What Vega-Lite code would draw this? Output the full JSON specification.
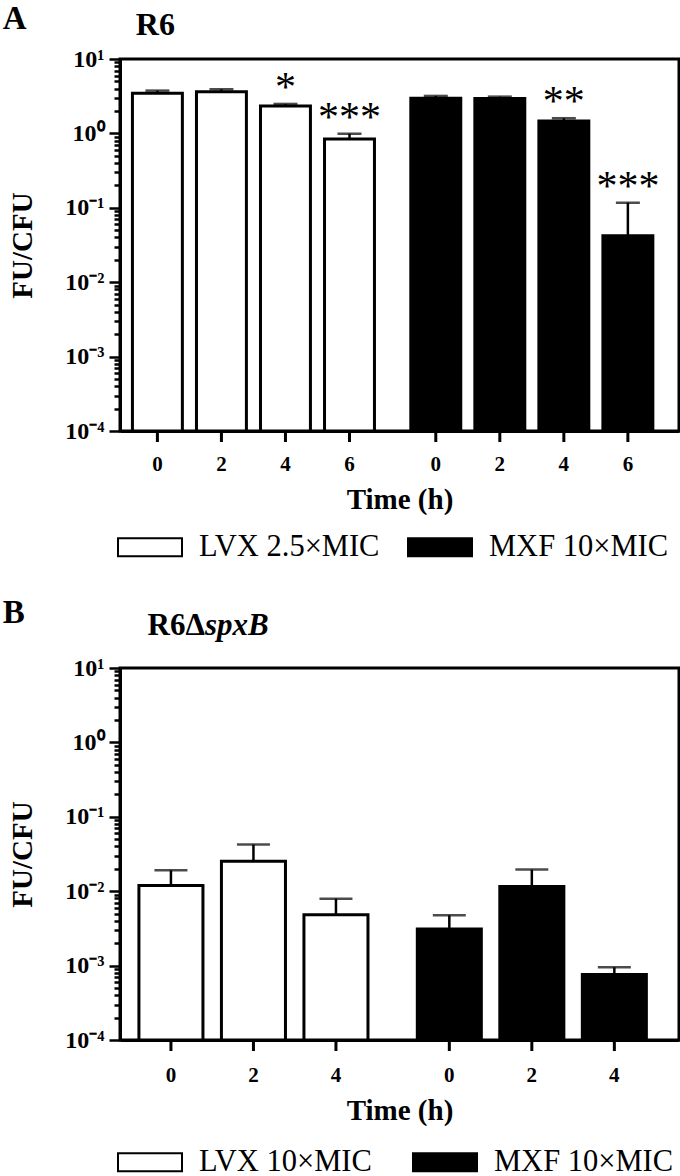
{
  "$schema": "https://vega.github.io/schema/vega-lite/v6.json",
  "background": "white",
  "padding": {"left": 1, "top": 1, "right": 0, "bottom": 0},
  "spacing": 30,
  "config": {
    "view": {"stroke": "black", "strokeWidth": 3},
    "font": "Liberation Serif",
    "axisY": {
      "values": [0.0001,0.0002,0.0003,0.0004,0.0005,0.0006,0.0007,0.0008,0.0009,0.001,0.002,0.003,0.004,0.005,0.006,0.007,0.008,0.009,0.01,0.02,0.03,0.04,0.05,0.06,0.07,0.08,0.09,0.1,0.2,0.3,0.4,0.5,0.6,0.7,0.8,0.9,1,2,3,4,5,6,7,8,9,10],
      "labelExpr": "abs(log(datum.value)/LN10 - round(log(datum.value)/LN10)) < 0.001 ? ('10' + (round(log(datum.value)/LN10) == 1 ? '¹' : round(log(datum.value)/LN10) == 0 ? '⁰' : round(log(datum.value)/LN10) == -1 ? '⁻¹' : round(log(datum.value)/LN10) == -2 ? '⁻²' : round(log(datum.value)/LN10) == -3 ? '⁻³' : '⁻⁴')) : ''",
      "tickSize": {"condition": {"test": "abs(log(datum.value)/LN10 - round(log(datum.value)/LN10)) < 0.001", "value": 11}, "value": 6},
      "tickWidth": 2.5,
      "tickColor": "black",
      "domainColor": "black",
      "domainWidth": 3,
      "grid": false,
      "labelFont": "Liberation Serif",
      "labelFontWeight": "bold",
      "labelFontSize": 24,
      "labelColor": "black",
      "labelPadding": 5,
      "labelOverlap": false,
      "titleFont": "Liberation Serif",
      "titleFontWeight": "bold",
      "titleFontSize": 29,
      "titleColor": "black",
      "titlePadding": 27
    },
    "axisX": {
      "labels": false,
      "ticks": false,
      "domainColor": "black",
      "domainWidth": 3,
      "grid": false,
      "titleFont": "Liberation Serif",
      "titleFontWeight": "bold",
      "titleFontSize": 29,
      "titleColor": "black"
    },
    "legend": {
      "orient": "none",
      "legendX": -3,
      "direction": "horizontal",
      "symbolType": "M-1,-0.28H1V0.28H-1Z",
      "symbolSize": 4096,
      "symbolStrokeColor": "black",
      "symbolStrokeWidth": 2,
      "labelFont": "Liberation Serif",
      "labelFontSize": 30.5,
      "labelColor": "black",
      "labelOffset": 16,
      "columnPadding": 24,
      "labelLimit": 400
    }
  },
  "resolve": {"scale": {"x": "independent", "xOffset": "independent", "y": "independent", "color": "independent"}, "legend": {"color": "independent"}},
  "vconcat": [
    {
      "width": 559,
      "height": 372,
      "title": {"text": "A", "anchor": "start", "frame": "bounds", "fontSize": 33, "font": "Liberation Serif", "fontWeight": "bold", "color": "black", "offset": -27, "dx": -6},
      "data": {"values": [
        {"drug": "LVX 2.5×MIC", "time": "0", "value": 3.47, "upper": 3.76, "sig": ""},
        {"drug": "LVX 2.5×MIC", "time": "2", "value": 3.64, "upper": 3.92, "sig": ""},
        {"drug": "LVX 2.5×MIC", "time": "4", "value": 2.34, "upper": 2.49, "sig": "*"},
        {"drug": "LVX 2.5×MIC", "time": "6", "value": 0.843, "upper": 0.99, "sig": "***"},
        {"drug": "MXF 10×MIC", "time": "0", "value": 2.97, "upper": 3.19, "sig": ""},
        {"drug": "MXF 10×MIC", "time": "2", "value": 2.94, "upper": 3.12, "sig": ""},
        {"drug": "MXF 10×MIC", "time": "4", "value": 1.47, "upper": 1.6, "sig": "**"},
        {"drug": "MXF 10×MIC", "time": "6", "value": 0.042, "upper": 0.117, "sig": "***"}
      ]},
      "encoding": {
        "x": {"field": "drug", "type": "nominal", "scale": {"domain": ["LVX 2.5×MIC", "MXF 10×MIC"], "paddingInner": 0.08, "paddingOuter": 0.044, "align": 0.22}, "axis": {"title": "Time (h)", "titlePadding": 54}},
        "xOffset": {"field": "time", "type": "nominal", "scale": {"domain": ["0", "2", "4", "6"], "paddingInner": 0.22, "paddingOuter": 0.11}}
      },
      "layer": [
        {
          "mark": {"type": "bar", "stroke": "black", "strokeWidth": 3},
          "encoding": {
            "y": {"field": "value", "type": "quantitative", "scale": {"type": "log", "domain": [0.0001, 10], "nice": false}, "axis": {"title": "FU/CFU"}},
            "y2": {"datum": 0.0001},
            "color": {"field": "drug", "type": "nominal", "scale": {"domain": ["LVX 2.5×MIC", "MXF 10×MIC"], "range": ["white", "black"]}, "legend": {"title": null, "legendY": 455}}
          }
        },
        {
          "mark": {"type": "rule", "strokeWidth": 2.5, "color": "black"},
          "encoding": {"y": {"field": "value", "type": "quantitative"}, "y2": {"field": "upper"}}
        },
        {
          "mark": {"type": "tick", "orient": "horizontal", "size": 24, "thickness": 2.5, "color": "black"},
          "encoding": {"y": {"field": "upper", "type": "quantitative"}}
        },
        {
          "mark": {"type": "rule", "strokeWidth": 3, "color": "black", "y2Offset": 11},
          "encoding": {"y": {"datum": 0.0001}, "y2": {"datum": 0.0001}}
        },
        {
          "mark": {"type": "text", "dy": 34, "baseline": "middle", "fontSize": 21, "fontWeight": "bold", "font": "Liberation Serif", "color": "black"},
          "encoding": {"y": {"datum": 0.0001}, "text": {"field": "time"}}
        },
        {
          "mark": {"type": "text", "baseline": "alphabetic", "dy": -3, "fontSize": 42, "font": "Liberation Serif", "color": "black"},
          "encoding": {"y": {"field": "upper", "type": "quantitative"}, "text": {"field": "sig"}}
        },
        {
          "data": {"values": [{"label": "R6"}]},
          "mark": {"type": "text", "baseline": "alphabetic", "dx": -2, "dy": -24, "fontSize": 32, "fontWeight": "bold", "font": "Liberation Serif", "color": "black"},
          "encoding": {"x": {"datum": "LVX 2.5×MIC"}, "xOffset": {"datum": "0"}, "y": {"datum": 10}, "text": {"field": "label"}}
        }
      ]
    },
    {
      "width": 559,
      "height": 372,
      "title": {"text": "B", "anchor": "start", "frame": "bounds", "fontSize": 33, "font": "Liberation Serif", "fontWeight": "bold", "color": "black", "offset": -20, "dx": -6},
      "data": {"values": [
        {"drug": "LVX 10×MIC", "time": "0", "value": 0.0119, "upper": 0.0191},
        {"drug": "LVX 10×MIC", "time": "2", "value": 0.0252, "upper": 0.0424},
        {"drug": "LVX 10×MIC", "time": "4", "value": 0.00484, "upper": 0.00794},
        {"drug": "MXF 10×MIC", "time": "0", "value": 0.0031, "upper": 0.00474},
        {"drug": "MXF 10×MIC", "time": "2", "value": 0.01153, "upper": 0.0195},
        {"drug": "MXF 10×MIC", "time": "4", "value": 0.00076, "upper": 0.00095}
      ]},
      "encoding": {
        "x": {"field": "drug", "type": "nominal", "scale": {"domain": ["LVX 10×MIC", "MXF 10×MIC"], "paddingInner": 0.08, "paddingOuter": 0.044, "align": 0.22}, "axis": {"title": "Time (h)", "titlePadding": 56}},
        "xOffset": {"field": "time", "type": "nominal", "scale": {"domain": ["0", "2", "4"], "paddingInner": 0.224, "paddingOuter": 0.164}}
      },
      "layer": [
        {
          "mark": {"type": "bar", "stroke": "black", "strokeWidth": 3},
          "encoding": {
            "y": {"field": "value", "type": "quantitative", "scale": {"type": "log", "domain": [0.0001, 10], "nice": false}, "axis": {"title": "FU/CFU"}},
            "y2": {"datum": 0.0001},
            "color": {"field": "drug", "type": "nominal", "scale": {"domain": ["LVX 10×MIC", "MXF 10×MIC"], "range": ["white", "black"]}, "legend": {"title": null, "legendY": 461, "columnPadding": 37}}
          }
        },
        {
          "mark": {"type": "rule", "strokeWidth": 2.5, "color": "black"},
          "encoding": {"y": {"field": "value", "type": "quantitative"}, "y2": {"field": "upper"}}
        },
        {
          "mark": {"type": "tick", "orient": "horizontal", "size": 33, "thickness": 2.5, "color": "black"},
          "encoding": {"y": {"field": "upper", "type": "quantitative"}}
        },
        {
          "mark": {"type": "rule", "strokeWidth": 3, "color": "black", "y2Offset": 11},
          "encoding": {"y": {"datum": 0.0001}, "y2": {"datum": 0.0001}}
        },
        {
          "mark": {"type": "text", "dy": 36, "baseline": "middle", "fontSize": 21, "fontWeight": "bold", "font": "Liberation Serif", "color": "black"},
          "encoding": {"y": {"datum": 0.0001}, "text": {"field": "time"}}
        },
        {
          "data": {"values": [{"label": "R6Δ"}]},
          "mark": {"type": "text", "baseline": "alphabetic", "align": "right", "dx": 34, "dy": -33, "fontSize": 31, "fontWeight": "bold", "font": "Liberation Serif", "color": "black"},
          "encoding": {"x": {"datum": "LVX 10×MIC"}, "xOffset": {"datum": "0"}, "y": {"datum": 10}, "text": {"field": "label"}}
        },
        {
          "data": {"values": [{"label": "spxB"}]},
          "mark": {"type": "text", "baseline": "alphabetic", "align": "left", "dx": 34, "dy": -33, "fontSize": 31, "fontWeight": "bold", "fontStyle": "italic", "font": "Liberation Serif", "color": "black"},
          "encoding": {"x": {"datum": "LVX 10×MIC"}, "xOffset": {"datum": "0"}, "y": {"datum": 10}, "text": {"field": "label"}}
        }
      ]
    }
  ]
}
